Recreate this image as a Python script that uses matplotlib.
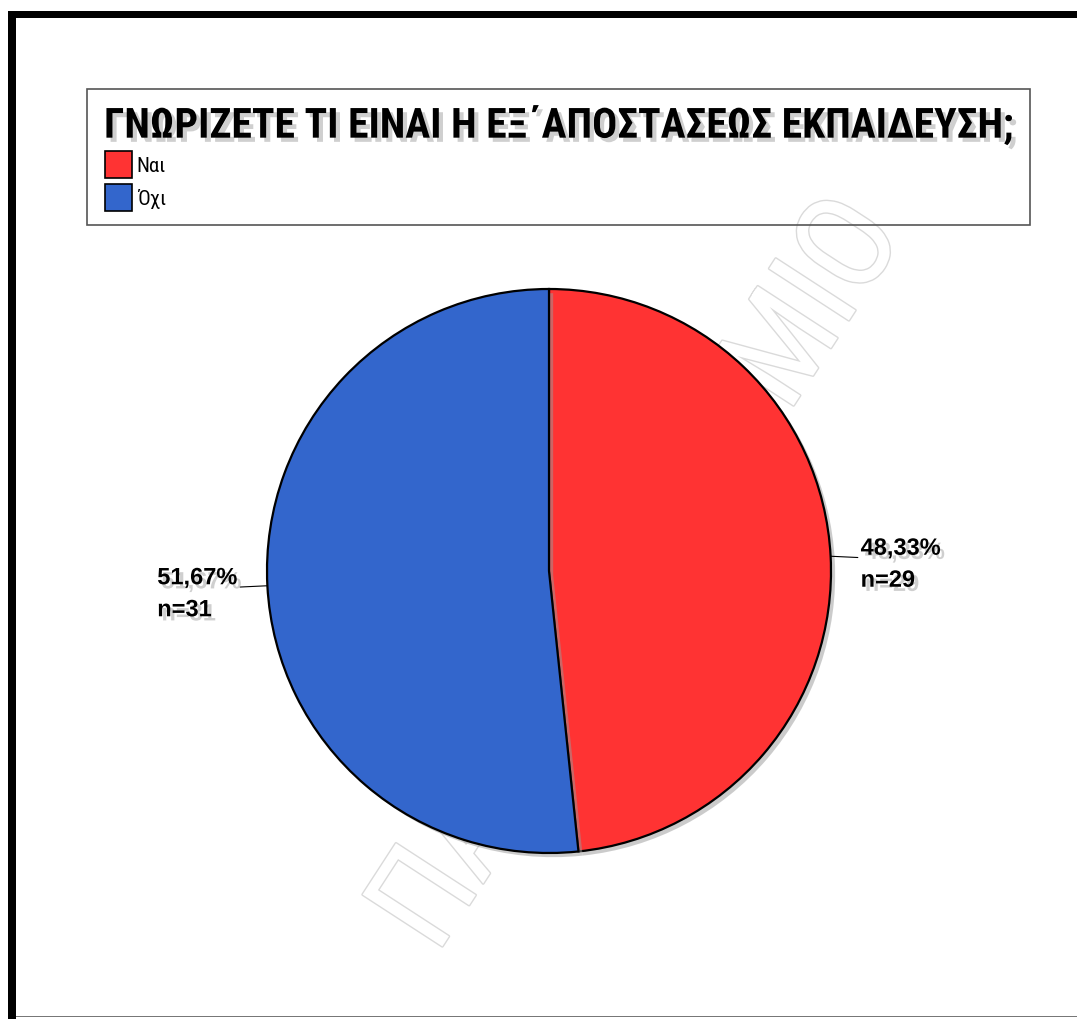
import numpy as np
import matplotlib.pyplot as plt
import matplotlib.patheffects as pe
from matplotlib.patches import Rectangle, Patch

title = "ΓΝΩΡΙΖΕΤΕ ΤΙ ΕΙΝΑΙ Η ΕΞ΄ΑΠΟΣΤΑΣΕΩΣ ΕΚΠΑΙΔΕΥΣΗ;"
labels = ["Ναι", "Όχι"]
counts = [29, 31]
percents = ["48,33%", "51,67%"]
colors = ["#ff3333", "#3366cc"]
watermark = "ΠΑΝΕΠΙΣΤΗΜΙΟ"

W, H = 1077, 1019
fig = plt.figure(figsize=(W / 100, H / 100), dpi=100)
fig.patch.set_facecolor("white")
renderer = fig.canvas.get_renderer()

narrow = ["Roboto Condensed", "Open Sans Condensed", "Liberation Sans Narrow", "Liberation Sans", "DejaVu Sans"]


def fx(px):
    return px / W


def fy(py):
    return 1 - py / H


def fit(t, target):
    # shrink/grow font until text spans target pixels
    for _ in range(3):
        w = t.get_window_extent(renderer).width
        t.set_fontsize(t.get_fontsize() * target / w)


tshadow = [pe.withSimplePatchShadow(offset=(3, -3), shadow_rgbFace="#888888", alpha=0.4)]

# watermark (under the pie)
wm = fig.text(fx(640), fy(575), watermark, rotation=0, ha="center", va="center",
              fontsize=100, color="white", family=narrow,
              path_effects=[pe.withStroke(linewidth=2, foreground="#dadada")], zorder=-2)
fit(wm, 860)
wm.set_rotation(57)

# outer frame
fig.patches.append(Rectangle((fx(8), 0), fx(8), 1 - 11 / H, transform=fig.transFigure,
                             facecolor="black", edgecolor="none", zorder=5))
fig.patches.append(Rectangle((fx(8), fy(18)), 1 - fx(8), 7 / H, transform=fig.transFigure,
                             facecolor="black", edgecolor="none", zorder=5))
fig.patches.append(Rectangle((fx(16), fy(1017)), 1 - fx(16), 1.5 / H, transform=fig.transFigure,
                             facecolor="#777777", edgecolor="none", zorder=5))

# legend box
fig.patches.append(Rectangle((fx(87), fy(225)), fx(1030 - 87), (225 - 89) / H, transform=fig.transFigure,
                             facecolor="none", edgecolor="#555555", linewidth=1.2, zorder=2))
tt = fig.text(fx(104), fy(126), title, ha="left", va="center", fontsize=28, fontweight="bold",
              family=narrow, zorder=3, path_effects=tshadow)
fit(tt, 910)

handles = [Patch(facecolor=c, edgecolor="black", linewidth=1.2) for c in colors]
leg = fig.legend(handles, labels, loc="upper left", bbox_to_anchor=(fx(97), fy(143)),
                 frameon=False, fontsize=15, handlelength=1.3, handleheight=1.6,
                 handletextpad=0.2, labelspacing=0.3, borderaxespad=0)
for t in leg.get_texts():
    t.set_family(narrow)
leg.set_zorder(4)

# pie
cx, cy, r = 549, 571, 282
ax = fig.add_axes([fx(cx - r), fy(cy + r), fx(2 * r), 2 * r / H], zorder=1)
ax.patch.set_alpha(0)
wedges, _ = ax.pie(counts, colors=colors, startangle=90, counterclock=False,
                   wedgeprops=dict(edgecolor="black", linewidth=1.6))
for w in wedges:
    w.set_path_effects([pe.SimplePatchShadow(offset=(3, -3), shadow_rgbFace="#999999", alpha=0.5), pe.Normal()])
ax.set_xlim(-1, 1)
ax.set_ylim(-1, 1)
ax.set_aspect("auto")
ax.axis("off")

for w, p, n in zip(wedges, percents, counts):
    mid = np.deg2rad((w.theta1 + w.theta2) / 2)
    x, y = np.cos(mid), np.sin(mid)
    side = 1 if x > 0 else -1
    ax.annotate(p + "\nn=" + str(n), xy=(x, y), xytext=(side * 30, -8), textcoords="offset pixels",
                ha="left" if side > 0 else "right", va="center", multialignment="left",
                fontsize=17, fontweight="bold",
                family=["Liberation Sans", "DejaVu Sans"], linespacing=1.5,
                arrowprops=dict(arrowstyle="-", color="black", lw=0.8, shrinkA=0, shrinkB=0,
                                relpos=(0, 0.62) if side > 0 else (1, 0.62)),
                annotation_clip=False, path_effects=tshadow)

fig.savefig("out.png", dpi=100)
